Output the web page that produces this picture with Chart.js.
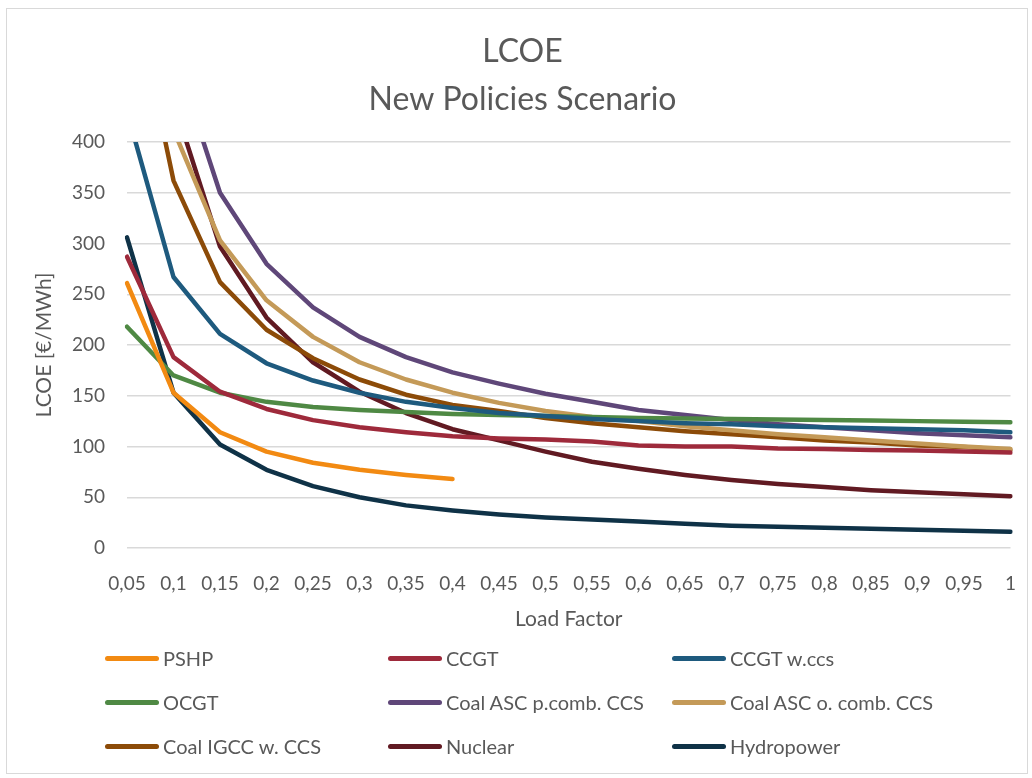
<!DOCTYPE html>
<html>
<head>
<meta charset="utf-8" />
<title>LCOE New Policies Scenario</title>
<script src="https://cdn.jsdelivr.net/npm/chart.js"></script>
<style>
  body { margin:0; padding:0; background:#fff; }
  #wrap { position:absolute; left:0; top:0; width:1032px; height:778px; }
  #frame { position:absolute; left:6px; top:8px; width:1022px; height:766px; border:1.5px solid #d9d9d9; box-sizing:border-box; }
  #legend { position:absolute; left:0; top:0; font-family:Lato, "Open Sans", sans-serif; font-size:20px; color:#595959; }
  .item { position:absolute; white-space:nowrap; display:flex; align-items:center; height:24px; }
  .swatch { display:inline-block; width:54px; height:5px; border-radius:3px; margin-right:4px; }
</style>
</head>
<body>
<div id="wrap">
  <div id="frame"></div>
  <canvas id="chart"></canvas>
  <div id="legend"></div>
</div>
<script>
const loadFactors = ['0,05','0,1','0,15','0,2','0,25','0,3','0,35','0,4','0,45','0,5','0,55','0,6','0,65','0,7','0,75','0,8','0,85','0,9','0,95','1'];

const pshp      = [261, 153, 114, 95, 84, 77, 72, 68, null, null, null, null, null, null, null, null, null, null, null, null];
const ccgt      = [287, 188, 154, 137, 126, 119, 114, 110, 108, 107, 105, 101, 100, 100, 98, 97.5, 96.5, 96, 95, 94];
const ccgtCcs   = [430, 267, 211, 182, 165, 153, 144, 138, 133, 130, 127, 125, 123, 122, 120, 119, 118, 117, 116, 114];
const ocgt      = [218, 170, 153, 144, 139, 136, 134, 132, 131, 130, 129, 128, 127.5, 127, 126.5, 126, 125.5, 125, 124.5, 124];
const coalPcomb = [920, 490, 350, 280, 237, 208, 188, 173, 162, 152, 144, 136, 131, 126, 122, 119, 116, 113, 111, 109];
const coalOcomb = [720, 412, 303, 244, 208, 183, 166, 153, 143, 135, 129, 125, 120, 116, 112, 109, 106, 103, 100, 97.5];
const coalIgcc  = [580, 362, 262, 215, 187, 166, 151, 141, 135, 128, 123, 119, 115, 112, 109, 106, 104, 101, 99.5, 96.5];
const nuclear   = [800, 440, 297, 227, 183, 154, 133, 117, 106, 95, 85, 78, 72, 67, 63, 60, 57, 55, 53, 51];
const hydro     = [306, 153, 102, 77, 61, 50, 42, 37, 33, 30, 28, 26, 24, 22, 21, 20, 19, 18, 17, 16];

const seriesNames  = ['PSHP', 'CCGT', 'CCGT w.ccs', 'OCGT', 'Coal ASC p.comb. CCS', 'Coal ASC o. comb. CCS', 'Coal IGCC w. CCS', 'Nuclear', 'Hydropower'];
const seriesData   = [pshp, ccgt, ccgtCcs, ocgt, coalPcomb, coalOcomb, coalIgcc, nuclear, hydro];
const seriesColors = ['#F28A12', '#9E2A3B', '#1E5A7E', '#4F8944', '#5F4779', '#C49A58', '#8C4B08', '#611A22', '#0F3247'];

const yTicks = [0, 50, 100, 150, 200, 250, 300, 350, 400];

const FONT = 'Lato, "Open Sans", sans-serif';
const GREY = '#595959';

const ctx = document.getElementById('chart').getContext('2d');
const chart = new Chart(ctx, {
  type: 'line',
  data: {
    labels: loadFactors,
    datasets: seriesNames.map((name, i) => ({
      label: name,
      data: seriesData[i],
      borderColor: seriesColors[i],
      backgroundColor: seriesColors[i],
      borderWidth: 4.5,
      borderCapStyle: 'round',
      borderJoinStyle: 'round',
      pointRadius: 0,
      tension: 0,
      fill: false
    }))
  },
  options: {
    responsive: true,
    maintainAspectRatio: false,
    animation: false,
    layout: { padding: { left: 30, right: 17, top: 0, bottom: 146 } },
    plugins: {
      legend: { display: false },
      tooltip: { enabled: false },
      title: {
        display: true,
        text: ['LCOE', 'New Policies Scenario'],
        color: GREY,
        font: { family: FONT, size: 32, weight: 'normal', lineHeight: 1.5 },
        padding: { top: 28, bottom: 18 }
      }
    },
    scales: {
      x: {
        afterFit: s => { s.height = 84; },
        grid: { display: false },
        border: { display: false },
        ticks: { color: GREY, font: { family: FONT, size: 19 }, maxRotation: 0, autoSkip: false, padding: 16 },
        title: { display: true, text: 'Load Factor', color: GREY, font: { family: FONT, size: 21 }, padding: { top: 0, bottom: 0 } }
      },
      y: {
        min: 0,
        max: 400,
        afterBuildTicks: s => { s.ticks = yTicks.map(v => ({ value: v })); },
        afterFit: s => { s.width = 97; },
        grid: { color: '#d9d9d9', lineWidth: 1.5, drawTicks: false },
        border: { display: false },
        ticks: { color: GREY, font: { family: FONT, size: 19 }, padding: 22 },
        title: { display: true, text: 'LCOE [€/MWh]', color: GREY, font: { family: FONT, size: 21 }, padding: { top: 2, bottom: 0 } }
      }
    }
  }
});

// legend laid out in three columns like the original
const legendEl = document.getElementById('legend');
const colX = [105, 388, 672];
const rowY = [646, 690, 734];
chart.data.datasets.forEach((ds, i) => {
  const item = document.createElement('div');
  item.className = 'item';
  item.style.left = colX[i % 3] + 'px';
  item.style.top = rowY[Math.floor(i / 3)] + 'px';
  item.innerHTML = `<span class="swatch" style="background:${ds.borderColor}"></span>${ds.label}`;
  legendEl.appendChild(item);
});
</script>
</body>
</html>
